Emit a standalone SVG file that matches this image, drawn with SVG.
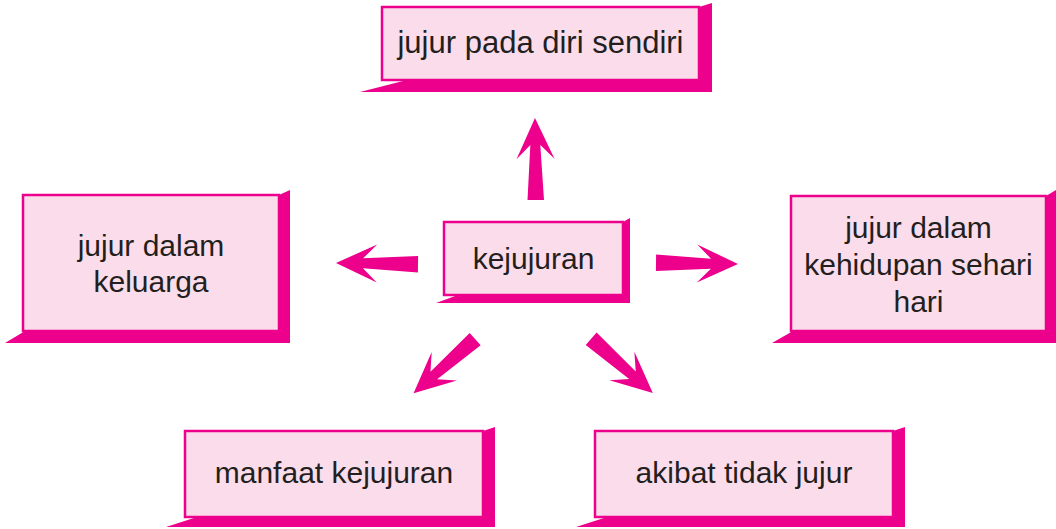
<svg xmlns="http://www.w3.org/2000/svg" width="1056" height="529" viewBox="0 0 1056 529">
<style>
.sh{fill:#EC008C}
.bx{fill:#FBDCEB;stroke:#EC008C;stroke-width:2.5}
.t{font-family:"Liberation Sans",Arial,sans-serif;font-size:30px;fill:#231F20;text-anchor:middle}
.ar{fill:#EC008C}
</style>
<defs>
<path id="arrow" d="M0,-8.5 L55,-5 L41,-19 L82,0 L41,19 L55,5 L0,8 Z"/>
</defs>
<rect width="1056" height="529" fill="#fff"/>
<g id="connectors" class="ar">
<use href="#arrow" transform="translate(536,200) rotate(-90.7)"/>
<use href="#arrow" transform="translate(418,264) rotate(180.7)"/>
<use href="#arrow" transform="translate(656,263) rotate(0.7)"/>
<use href="#arrow" transform="translate(475,339) rotate(138.5)"/>
<use href="#arrow" transform="translate(591,339) rotate(41.1)"/>
</g>
<g id="node-top">
<polygon class="sh" points="699,7 712,3 712,92 360,92 407,80 699,80"/>
<rect class="bx" x="382" y="7" width="317" height="73"/>
<text class="t" x="540.5" y="53" style="font-size:31px">jujur pada diri sendiri</text>
</g>
<g id="node-center">
<polygon class="sh" points="623,222 630,218 630,303 436,303 458,295 623,295"/>
<rect class="bx" x="444" y="222" width="179" height="73"/>
<text class="t" x="533.5" y="269">kejujuran</text>
</g>
<g id="node-left">
<polygon class="sh" points="279,195 290,190 290,343 5,343 25,331 279,331"/>
<rect class="bx" x="23" y="195" width="256" height="136"/>
<text class="t" x="151" y="256">jujur dalam</text>
<text class="t" x="151" y="292">keluarga</text>
</g>
<g id="node-right">
<polygon class="sh" points="1046,196 1056,190 1056,343 772,343 793,331 1046,331"/>
<rect class="bx" x="791" y="196" width="255" height="135"/>
<text class="t" x="918.5" y="238">jujur dalam</text>
<text class="t" x="918.5" y="275">kehidupan sehari</text>
<text class="t" x="918.5" y="312">hari</text>
</g>
<g id="node-bottom-left">
<polygon class="sh" points="483,431 495,427 495,527 166,527 197,517 483,517"/>
<rect class="bx" x="185" y="431" width="298" height="86"/>
<text class="t" x="334" y="483">manfaat kejujuran</text>
</g>
<g id="node-bottom-right">
<polygon class="sh" points="893,431 905,427 905,527 576,527 607,517 893,517"/>
<rect class="bx" x="595" y="431" width="298" height="86"/>
<text class="t" x="744" y="483">akibat tidak jujur</text>
</g>
</svg>
